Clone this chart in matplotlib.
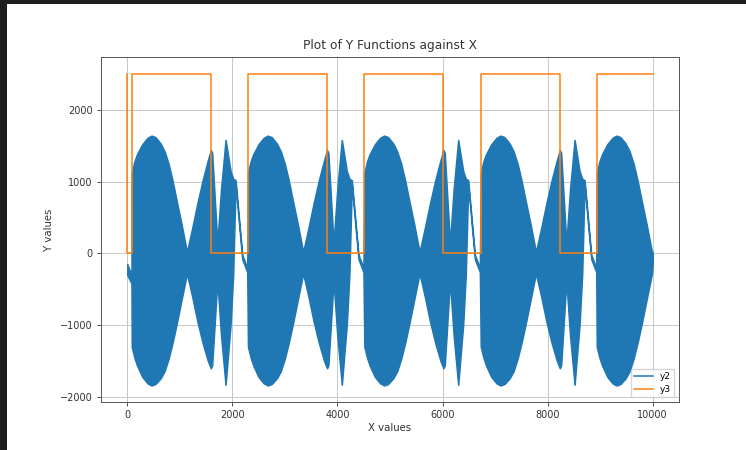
import matplotlib
matplotlib.use("Agg")
import matplotlib.pyplot as plt
from matplotlib.lines import Line2D
from matplotlib.patches import Rectangle

# ---- data ----
# y2: dense oscillation, given as its upper / lower envelope
env_x = [0, 80,
         85, 135, 185, 285, 385, 460, 535, 635, 710, 785, 860, 935, 1035, 1135, 1235, 1335, 1435, 1535, 1590, 1615, 1714, 1785, 1871, 1965, 2015, 2061, 2188, 2283,
         2297, 2347, 2397, 2497, 2597, 2672, 2747, 2847, 2922, 2997, 3072, 3147, 3247, 3347, 3447, 3547, 3647, 3747, 3802, 3827, 3926, 3997, 4083, 4177, 4227, 4273, 4400, 4495,
         4512, 4562, 4612, 4712, 4812, 4887, 4962, 5062, 5137, 5212, 5287, 5362, 5462, 5562, 5662, 5762, 5862, 5962, 6017, 6042, 6141, 6212, 6298, 6392, 6442, 6488, 6615, 6710,
         6727, 6777, 6827, 6927, 7027, 7102, 7177, 7277, 7352, 7427, 7502, 7577, 7677, 7777, 7877, 7977, 8077, 8177, 8232, 8257, 8356, 8427, 8513, 8607, 8657, 8703, 8830, 8925,
         8935, 8985, 9035, 9135, 9235, 9310, 9385, 9485, 9560, 9635, 9710, 9785, 9885, 9985, 9999]
env_upper = [-150, -300,
             1120, 1280, 1380, 1520, 1610, 1640, 1620, 1530, 1420, 1250, 1020, 750, 400, 20, 350, 700, 1020, 1300, 1440, 1400, 140, 900, 1580, 1150, 1040, 1020, -20, -200,
             1120, 1280, 1380, 1520, 1610, 1640, 1620, 1530, 1420, 1250, 1020, 750, 400, 20, 350, 700, 1020, 1300, 1440, 1400, 140, 900, 1580, 1150, 1040, 1020, -20, -200,
             1120, 1280, 1380, 1520, 1610, 1640, 1620, 1530, 1420, 1250, 1020, 750, 400, 20, 350, 700, 1020, 1300, 1440, 1400, 140, 900, 1580, 1150, 1040, 1020, -20, -200,
             1120, 1280, 1380, 1520, 1610, 1640, 1620, 1530, 1420, 1250, 1020, 750, 400, 20, 350, 700, 1020, 1300, 1440, 1400, 140, 900, 1580, 1150, 1040, 1020, -20, -200,
             1120, 1280, 1380, 1520, 1610, 1640, 1620, 1530, 1420, 1250, 1020, 750, 400, 20, 20]
env_lower = [-300, -420,
             -1300, -1450, -1560, -1720, -1810, -1840, -1820, -1740, -1640, -1470, -1250, -1000, -640, -280, -600, -950, -1250, -1500, -1600, -1560, -380, -1150, -1830, -1000, -300, 950, -80, -260,
             -1300, -1450, -1560, -1720, -1810, -1840, -1820, -1740, -1640, -1470, -1250, -1000, -640, -280, -600, -950, -1250, -1500, -1600, -1560, -380, -1150, -1830, -1000, -300, 950, -80, -260,
             -1300, -1450, -1560, -1720, -1810, -1840, -1820, -1740, -1640, -1470, -1250, -1000, -640, -280, -600, -950, -1250, -1500, -1600, -1560, -380, -1150, -1830, -1000, -300, 950, -80, -260,
             -1300, -1450, -1560, -1720, -1810, -1840, -1820, -1740, -1640, -1470, -1250, -1000, -640, -280, -600, -950, -1250, -1500, -1600, -1560, -380, -1150, -1830, -1000, -300, 950, -80, -260,
             -1300, -1450, -1560, -1720, -1810, -1840, -1820, -1740, -1640, -1470, -1250, -1000, -640, -280, -150]

# y3: square wave (value holds until next x)
y3_x = [0, 1, 85, 1590, 2297, 3802, 4512, 6017, 6727, 8232, 8935, 9999]
y3_v = [2500, 0, 2500, 0, 2500, 0, 2500, 0, 2500, 0, 2500, 2500]

x_ticks = [0, 2000, 4000, 6000, 8000, 10000]
y_ticks = [-2000, -1000, 0, 1000, 2000]

# ---- figure ----
fig = plt.figure(figsize=(7.46, 4.5), dpi=100)
fig.patch.set_facecolor("white")
# screenshot frame (dark strips at left and top)
fig.patches.append(Rectangle((0, 0), 7 / 746, 1, transform=fig.transFigure,
                             facecolor="#1e1e1e", edgecolor="none", zorder=0))
fig.patches.append(Rectangle((0, 1 - 4 / 450), 1, 4 / 450, transform=fig.transFigure,
                             facecolor="#1e1e1e", edgecolor="none", zorder=0))

ax = fig.add_axes([101 / 746, 1 - 402 / 450, 578 / 746, 345 / 450])

blue = "#1f77b4"
orange = "#ff7f0e"
lw = 1.1
txt = "#333333"

ax.fill_between(env_x, env_lower, env_upper, color=blue, linewidth=lw,
                edgecolor=blue, zorder=2)
ax.plot(y3_x, y3_v, color=orange, linewidth=lw, drawstyle="steps-post", zorder=3)

ax.set_xlim(-500, 10500)
ax.set_ylim(-2070, 2735)
ax.set_xticks(x_ticks)
ax.set_yticks(y_ticks)
ax.grid(True, color="#c8c8c8", linewidth=0.7)
ax.tick_params(labelsize=7, length=2.6, width=0.6, colors=txt)
for s in ax.spines.values():
    s.set_linewidth(0.7)
    s.set_color("#555555")

ax.set_title("Plot of Y Functions against X", fontsize=8.8, pad=6, color=txt)
ax.set_xlabel("X values", fontsize=7.3, labelpad=2, color=txt)
ax.set_ylabel("Y values", fontsize=7.3, labelpad=4, color=txt)

handles = [Line2D([], [], color=blue, linewidth=lw),
           Line2D([], [], color=orange, linewidth=lw)]
ax.legend(handles, ["y2", "y3"], loc="lower right", fontsize=6.5,
          handlelength=2.0, borderpad=0.4, labelspacing=0.4)

fig.savefig("out.png", dpi=100)
